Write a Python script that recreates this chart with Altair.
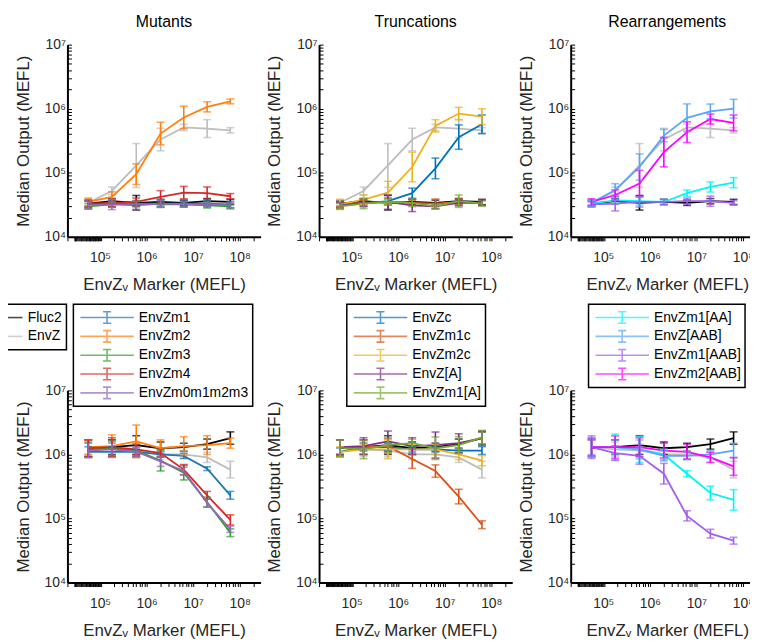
import altair as alt
import pandas as pd

FONT = "Liberation Sans, Arial, Helvetica, sans-serif"
TITLE_FONT = "Liberation Sans, Arial, Helvetica, sans-serif"

# ---------------- data ----------------
X_MARKER = [5.6e4, 1.8e5, 6.0e5, 2.0e6, 6.3e6, 2.0e7, 6.3e7]

CONTROL_NAMES = ["Fluc2", "EnvZ"]
CONTROL_COLORS = ["#000000", "#BDBDBD"]
CONTROL_TOP = {"Fluc2": [3.3e4, 3.6e4, 3.4e4, 3.5e4, 3.4e4, 3.6e4, 3.5e4],
               "EnvZ": [3.4e4, 5.2e4, 1.3e5, 3.3e5, 5.1e5, 4.9e5, 4.6e5]}
CONTROL_TOP_ERR = {"Fluc2": [1.1, 1.1, 1.3, 1.1, 1.1, 1.1, 1.1],
                   "EnvZ": [1.12, 1.15, 2.2, 1.5, 1.12, 1.38, 1.1]}
CONTROL_BOT = {"Fluc2": [1.25e6, 1.3e6, 1.4e6, 1.25e6, 1.3e6, 1.45e6, 1.8e6],
               "EnvZ": [1.3e6, 1.2e6, 1.15e6, 1.0e6, 1.0e6, 9.0e5, 5.8e5]}
CONTROL_BOT_ERR = {"Fluc2": [1.35, 1.3, 1.4, 1.25, 1.15, 1.2, 1.25],
                   "EnvZ": [1.3, 1.3, 1.25, 1.2, 1.15, 1.2, 1.35]}

MUT_NAMES = ["EnvZm1", "EnvZm2", "EnvZm3", "EnvZm4", "EnvZm0m1m2m3"]
MUT_COLORS = ["#1f77b4", "#ff7f0e", "#2ca02c", "#d62728", "#9467bd"]
MUT_TOP = {"EnvZm1": [3.2e4, 3.3e4, 3.3e4, 3.3e4, 3.3e4, 3.3e4, 3.2e4],
           "EnvZm2": [3.5e4, 4.2e4, 9.5e4, 4.1e5, 7.3e5, 1.07e6, 1.3e6],
           "EnvZm3": [3.0e4, 3.2e4, 3.3e4, 3.2e4, 3.2e4, 3.1e4, 3.0e4],
           "EnvZm4": [3.3e4, 3.4e4, 3.5e4, 4.2e4, 4.9e4, 4.8e4, 4.3e4],
           "EnvZm0m1m2m3": [3.1e4, 3.2e4, 3.1e4, 3.3e4, 3.2e4, 3.2e4, 3.1e4]}
MUT_TOP_ERR = {"EnvZm1": [1.12, 1.12, 1.12, 1.12, 1.12, 1.12, 1.12],
               "EnvZm2": [1.15, 1.2, 1.45, 1.5, 1.5, 1.2, 1.09],
               "EnvZm3": [1.1, 1.1, 1.1, 1.1, 1.1, 1.1, 1.1],
               "EnvZm4": [1.15, 1.15, 1.15, 1.25, 1.25, 1.25, 1.1],
               "EnvZm0m1m2m3": [1.15, 1.2, 1.15, 1.15, 1.1, 1.1, 1.1]}
MUT_BOT = {"EnvZm1": [1.1e6, 1.1e6, 1.1e6, 1.0e6, 9.5e5, 6.0e5, 2.3e5],
           "EnvZm2": [1.3e6, 1.35e6, 1.6e6, 1.25e6, 1.35e6, 1.4e6, 1.5e6],
           "EnvZm3": [1.2e6, 1.25e6, 1.15e6, 8.0e5, 5.2e5, 1.8e5, 6.0e4],
           "EnvZm4": [1.25e6, 1.3e6, 1.2e6, 1.05e6, 5.8e5, 2.3e5, 9.5e4],
           "EnvZm0m1m2m3": [1.15e6, 1.2e6, 1.1e6, 7.8e5, 5.5e5, 1.75e5, 6.8e4]}
MUT_BOT_ERR = {"EnvZm1": [1.2, 1.2, 1.15, 1.1, 1.1, 1.07, 1.15],
               "EnvZm2": [1.3, 1.5, 1.8, 1.35, 1.4, 1.4, 1.2],
               "EnvZm3": [1.3, 1.3, 1.25, 1.45, 1.3, 1.2, 1.15],
               "EnvZm4": [1.35, 1.4, 1.2, 1.15, 1.2, 1.15, 1.2],
               "EnvZm0m1m2m3": [1.3, 1.25, 1.2, 1.2, 1.15, 1.15, 1.12]}

TRUNC_NAMES = ["EnvZc", "EnvZm1c", "EnvZm2c", "EnvZ[A]", "EnvZm1[A]"]
TRUNC_COLORS = ["#0072BD", "#D95319", "#EDB120", "#7E2F8E", "#77AC30"]
TRUNC_TOP = {"EnvZc": [3.1e4, 3.3e4, 3.6e4, 4.8e4, 1.17e5, 3.6e5, 5.7e5],
             "EnvZm1c": [3.2e4, 3.4e4, 3.5e4, 3.4e4, 3.3e4, 3.5e4, 3.4e4],
             "EnvZm2c": [3.2e4, 3.8e4, 4.9e4, 1.23e5, 5.4e5, 8.4e5, 7.5e5],
             "EnvZ[A]": [3.1e4, 3.4e4, 3.5e4, 3.1e4, 3.0e4, 3.4e4, 3.4e4],
             "EnvZm1[A]": [3.0e4, 3.3e4, 3.5e4, 3.4e4, 3.0e4, 3.6e4, 3.3e4]}
TRUNC_TOP_ERR = {"EnvZc": [1.1, 1.1, 1.12, 1.2, 1.45, 1.55, 1.4],
                 "EnvZm1c": [1.1, 1.1, 1.12, 1.1, 1.18, 1.12, 1.1],
                 "EnvZm2c": [1.2, 1.18, 1.5, 1.7, 1.25, 1.25, 1.33],
                 "EnvZ[A]": [1.12, 1.15, 1.3, 1.25, 1.1, 1.12, 1.1],
                 "EnvZm1[A]": [1.1, 1.2, 1.12, 1.15, 1.1, 1.25, 1.1]}
TRUNC_BOT = {"EnvZc": [1.1e6, 1.3e6, 1.3e6, 1.2e6, 1.2e6, 1.15e6, 1.15e6],
             "EnvZm1c": [1.3e6, 1.3e6, 1.35e6, 8.5e5, 5.5e5, 2.2e5, 8.0e4],
             "EnvZm2c": [1.1e6, 1.2e6, 1.2e6, 1.2e6, 1.2e6, 1.0e6, 8.0e5],
             "EnvZ[A]": [1.3e6, 1.35e6, 1.6e6, 1.35e6, 1.4e6, 1.5e6, 1.8e6],
             "EnvZm1[A]": [1.25e6, 1.2e6, 1.4e6, 1.5e6, 1.25e6, 1.4e6, 1.85e6]}
TRUNC_BOT_ERR = {"EnvZc": [1.15, 1.15, 1.15, 1.1, 1.1, 1.1, 1.15],
                 "EnvZm1c": [1.3, 1.3, 1.3, 1.4, 1.25, 1.3, 1.15],
                 "EnvZm2c": [1.2, 1.2, 1.4, 1.2, 1.2, 1.2, 1.2],
                 "EnvZ[A]": [1.3, 1.35, 1.45, 1.35, 1.6, 1.4, 1.3],
                 "EnvZm1[A]": [1.35, 1.4, 1.3, 1.15, 1.5, 1.35, 1.28]}

REAR_NAMES = ["EnvZm1[AA]", "EnvZ[AAB]", "EnvZm1[AAB]", "EnvZm2[AAB]"]
REAR_COLORS = ["#00F5F5", "#5AA5F5", "#A45EF0", "#FF00FF"]
REAR_TOP = {"EnvZm1[AA]": [3.3e4, 3.7e4, 3.6e4, 3.5e4, 4.8e4, 6.0e4, 7.0e4],
            "EnvZ[AAB]": [3.4e4, 5.4e4, 1.23e5, 3.8e5, 7.2e5, 9.1e5, 1.0e6],
            "EnvZm1[AAB]": [3.2e4, 3.3e4, 3.5e4, 3.5e4, 3.6e4, 3.6e4, 3.4e4],
            "EnvZm2[AAB]": [3.5e4, 4.5e4, 6.8e4, 2.1e5, 4.3e5, 6.9e5, 6.0e5]}
REAR_TOP_ERR = {"EnvZm1[AA]": [1.12, 1.1, 1.15, 1.08, 1.12, 1.2, 1.2],
                "EnvZ[AAB]": [1.12, 1.25, 1.6, 1.25, 1.65, 1.3, 1.4],
                "EnvZm1[AAB]": [1.1, 1.3, 1.2, 1.1, 1.12, 1.2, 1.08],
                "EnvZm2[AAB]": [1.12, 1.2, 1.6, 1.7, 1.45, 1.2, 1.33]}
REAR_BOT = {"EnvZm1[AA]": [1.3e6, 1.3e6, 1.2e6, 1.0e6, 5.0e5, 2.5e5, 1.95e5],
            "EnvZ[AAB]": [1.3e6, 1.3e6, 1.2e6, 9.5e5, 9.5e5, 1.0e6, 1.15e6],
            "EnvZm1[AAB]": [1.3e6, 1.05e6, 9.5e5, 5.0e5, 1.1e5, 5.8e4, 4.5e4],
            "EnvZm2[AAB]": [1.3e6, 1.3e6, 1.3e6, 1.15e6, 1.1e6, 9.0e5, 6.5e5]}
REAR_BOT_ERR = {"EnvZm1[AA]": [1.4, 1.6, 1.6, 1.2, 1.12, 1.28, 1.45],
                "EnvZ[AAB]": [1.4, 1.3, 1.4, 1.2, 1.15, 1.15, 1.3],
                "EnvZm1[AAB]": [1.5, 1.3, 1.35, 1.45, 1.2, 1.17, 1.13],
                "EnvZm2[AAB]": [1.35, 1.5, 1.4, 1.3, 1.3, 1.2, 1.38]}

TITLES = ["Mutants", "Truncations", "Rearrangements"]
Y_TITLE = "Median Output (MEFL)"
X_TITLE = "EnvZ\u1d65 Marker (MEFL)"

# ---------------- scales / axes ----------------
X_MIN, X_MAX = 10 ** 4.3, 10 ** 8.45
Y_MIN, Y_MAX = 1e4, 1e7
PW, PH = 195, 194

X_TICKS = [k * 10 ** e for e in range(4, 9) for k in range(1, 10) if X_MIN <= k * 10 ** e <= X_MAX]
# the crowded block of minor ticks at the low end of the x axis
X_TICKS += [10 ** (4.44 + 0.02 * i) for i in range(30)]
Y_TICKS = [k * 10 ** e for e in range(4, 7) for k in range(1, 10)] + [10 ** 7]

LABEL_EXPR = ("datum.value == 10000 ? '10\u2074' : datum.value == 100000 ? '10\u2075' : "
              "datum.value == 1000000 ? '10\u2076' : datum.value == 10000000 ? '10\u2077' : "
              "datum.value == 100000000 ? '10\u2078' : ''")

common_axis = dict(grid=False, labelFont=FONT, titleFont=FONT, labelFontSize=14, titleFontSize=17,
                   labelColor="#262626", titleColor="#262626", titleFontWeight="normal",
                   domainColor="black", domainWidth=2, tickColor="black", tickWidth=1,
                   labelOverlap=False, labelFlush=False, labelExpr=LABEL_EXPR)

x_axis = alt.Axis(values=X_TICKS, title=X_TITLE, tickSize=4, labelPadding=10, titlePadding=12, **common_axis)
y_axis = alt.Axis(values=Y_TICKS, title=Y_TITLE, tickSize={"expr": "-4"}, labelPadding=6,
                  titlePadding=12, **common_axis)

x_scale = alt.Scale(type="log", domain=[X_MIN, X_MAX], nice=False)
y_scale = alt.Scale(type="log", domain=[Y_MIN, Y_MAX], nice=False)

LEG_COMMON = dict(title=None, orient="none", labelFont=FONT, labelFontSize=14, labelColor="black",
                  strokeColor="black", fillColor="white", padding=4, rowPadding=0, clipHeight=19,
                  symbolStrokeWidth=1.6, labelOffset=2, cornerRadius=0, direction="vertical")
ERR_SYMBOL = "M-0.93,0H0.93M0,-0.2V0.2M-0.14,-0.2H0.14M-0.14,0.2H0.14"
LINE_SYMBOL = "M-1,0H0.75"


def frame(names, meds, errs):
    rows = []
    for n in names:
        for xv, m, f in zip(X_MARKER, meds[n], errs[n]):
            rows.append({"x": xv, "y": m, "lo": m / f, "hi": m * f, "series": n})
    return pd.DataFrame(rows)


def group(df, names, colors, legend):
    color = alt.Color("series:N", scale=alt.Scale(domain=names, range=colors), legend=legend)
    X = alt.X("x:Q", scale=x_scale, axis=x_axis)
    line = alt.Chart(df).mark_line(strokeWidth=1.8).encode(
        x=X, y=alt.Y("y:Q", scale=y_scale, axis=y_axis), color=color)
    bars = alt.Chart(df).mark_errorbar(ticks=True, size=8, thickness=1.6).encode(
        x=X, y=alt.Y("lo:Q", scale=y_scale, axis=y_axis), y2="hi:Q", color=color)
    return alt.layer(line, bars)


def panel(ctrl, ctrl_err, names, colors, meds, errs, ctrl_legend, ser_legend, title=None):
    a = group(frame(CONTROL_NAMES, ctrl, ctrl_err), CONTROL_NAMES, CONTROL_COLORS, ctrl_legend)
    b = group(frame(names, meds, errs), names, colors, ser_legend)
    ch = alt.layer(a, b).resolve_scale(color="independent").properties(width=PW, height=PH)
    if title:
        ch = ch.properties(title=alt.TitleParams(title, font=TITLE_FONT, fontSize=16, fontWeight="normal",
                                                 color="black", offset=8, anchor="middle"))
    return ch


def leg(x, symbol, size):
    return alt.Legend(legendX=x, legendY=262, symbolType=symbol, symbolSize=size, **LEG_COMMON)


p1t = panel(CONTROL_TOP, CONTROL_TOP_ERR, MUT_NAMES, MUT_COLORS, MUT_TOP, MUT_TOP_ERR,
            leg(-67, LINE_SYMBOL, 361), leg(6, ERR_SYMBOL, 3364), TITLES[0])
p2t = panel(CONTROL_TOP, CONTROL_TOP_ERR, TRUNC_NAMES, TRUNC_COLORS, TRUNC_TOP, TRUNC_TOP_ERR,
            None, leg(28, ERR_SYMBOL, 3364), TITLES[1])
p3t = panel(CONTROL_TOP, CONTROL_TOP_ERR, REAR_NAMES, REAR_COLORS, REAR_TOP, REAR_TOP_ERR,
            None, leg(18, ERR_SYMBOL, 3364), TITLES[2])
p1b = panel(CONTROL_BOT, CONTROL_BOT_ERR, MUT_NAMES, MUT_COLORS, MUT_BOT, MUT_BOT_ERR, None, None)
p2b = panel(CONTROL_BOT, CONTROL_BOT_ERR, TRUNC_NAMES, TRUNC_COLORS, TRUNC_BOT, TRUNC_BOT_ERR, None, None)
p3b = panel(CONTROL_BOT, CONTROL_BOT_ERR, REAR_NAMES, REAR_COLORS, REAR_BOT, REAR_BOT_ERR, None, None)

chart = alt.concat(p1t, p2t, p3t, p1b, p2b, p3b, columns=3,
                   spacing={"row": 155, "column": 59}, bounds="flush").properties(
    padding={"left": -8, "top": 3, "right": -14, "bottom": 0}
).configure_view(stroke=None).configure_legend(strokeWidth=1.5)

chart.save("out.html", embed_options={"renderer": "svg", "actions": False})
